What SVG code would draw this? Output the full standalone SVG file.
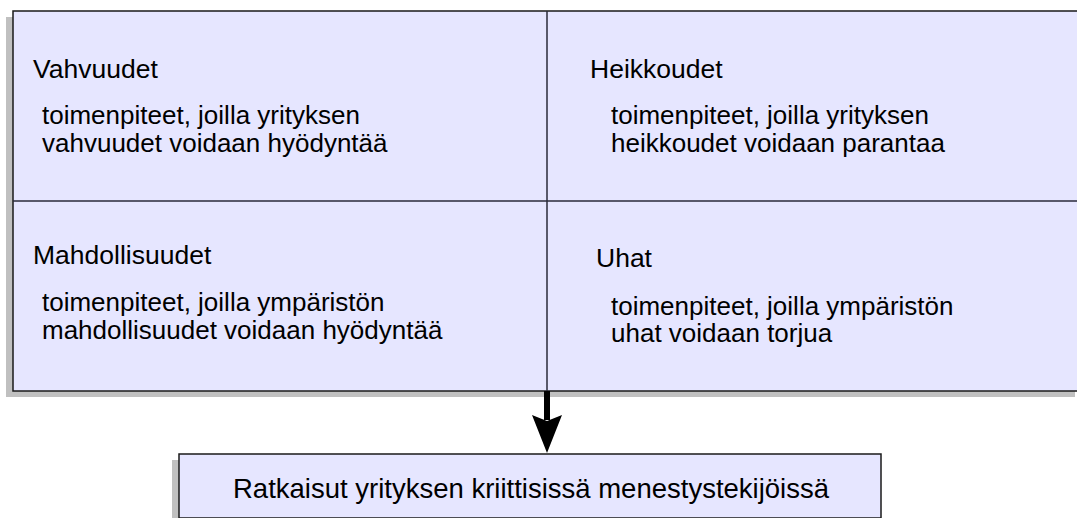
<svg xmlns="http://www.w3.org/2000/svg" width="1077" height="518" viewBox="0 0 1077 518">
  <style>
    .shadow { fill: #c0c0c0; }
    .box { fill: #e6e6ff; stroke: #1a1a1a; stroke-width: 1.5; }
    .divider { stroke: #2a2a3a; stroke-width: 1.5; fill: none; }
    .t { font-family: "Liberation Sans", Arial, sans-serif; fill: #000; }
    .head { font-size: 26.5px; }
    .body { font-size: 26px; }
    .result { font-size: 27.5px; }
  </style>
  <rect width="1077" height="518" fill="#ffffff"/>

  <!-- SWOT matrix -->
  <g id="matrix">
    <rect class="shadow" x="6" y="17" width="1069" height="380"/>
    <rect class="box" x="13" y="11" width="1066" height="380"/>
    <line class="divider" x1="547" y1="11" x2="547" y2="391"/>
    <line class="divider" x1="13" y1="201" x2="1077" y2="201"/>
  </g>

  <g id="vahvuudet">
    <text class="t head" x="33" y="78">Vahvuudet</text>
    <text class="t body" x="42" y="124">toimenpiteet, joilla yrityksen</text>
    <text class="t body" x="42" y="152">vahvuudet voidaan hyödyntää</text>
  </g>

  <g id="heikkoudet">
    <text class="t head" x="590" y="78">Heikkoudet</text>
    <text class="t body" x="611" y="124">toimenpiteet, joilla yrityksen</text>
    <text class="t body" x="611" y="152">heikkoudet voidaan parantaa</text>
  </g>

  <g id="mahdollisuudet">
    <text class="t head" x="33" y="264">Mahdollisuudet</text>
    <text class="t body" x="42" y="311">toimenpiteet, joilla ympäristön</text>
    <text class="t body" x="42" y="339">mahdollisuudet voidaan hyödyntää</text>
  </g>

  <g id="uhat">
    <text class="t head" x="596" y="267">Uhat</text>
    <text class="t body" x="611" y="315">toimenpiteet, joilla ympäristön</text>
    <text class="t body" x="611" y="342">uhat voidaan torjua</text>
  </g>

  <!-- Result box -->
  <g id="ratkaisut">
    <rect class="shadow" x="172" y="460" width="702" height="60"/>
    <rect class="box" x="179" y="454" width="702" height="64"/>
    <text class="t result" x="531" y="498" text-anchor="middle">Ratkaisut yrityksen kriittisissä menestystekijöissä</text>
  </g>

  <!-- Connector: thick shaft with notched arrowhead -->
  <g id="connectors">
    <line x1="547" y1="391" x2="547" y2="420" stroke="#000" stroke-width="6"/>
    <polygon points="532,415 547,421 562,415 547,453" fill="#000"/>
  </g>
</svg>
